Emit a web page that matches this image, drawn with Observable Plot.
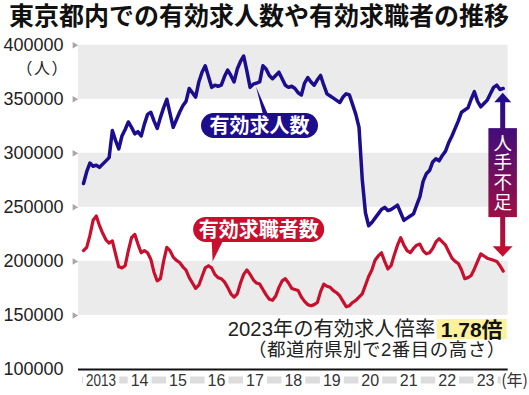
<!DOCTYPE html>
<html><head><meta charset="utf-8">
<script src="https://cdn.jsdelivr.net/npm/d3@7"></script>
<script src="https://cdn.jsdelivr.net/npm/@observablehq/plot@0.6"></script>
<style>
body{margin:0;background:#fff;width:529px;height:395px;overflow:hidden;position:relative;font-family:"Liberation Sans","Noto Sans CJK JP",sans-serif;}
#title{position:absolute;left:9px;top:-2px;width:515px;height:32px;line-height:32px;font-size:25px;font-weight:bold;font-family:"Noto Sans CJK JP",sans-serif;color:#111;white-space:nowrap;}
#chart{position:absolute;left:0;top:30px;}
</style></head><body>
<div id="title">東京都内での有効求人数や有効求職者の推移</div>
<div id="chart"></div>
<script>
// ---- data (monthly, Jan 2013 – Dec 2023), in thousands of people ----
const startYear = 2013;
const years = [2013,2014,2015,2016,2017,2018,2019,2020,2021,2022,2023];
const yearLabels = ["2013","14","15","16","17","18","19","20","21","22","23"];
const offers = [ // 有効求人数
 272,283,291,288,289,287,290,293,296,321,312,304,
 316,322,329,324,318,320,316,327,336,338,330,323,
 333,342,350,337,324,331,338,344,348,360,356,352,
 366,375,381,371,361,363,362,363,371,377,372,366,
 378,385,390,376,361,364,365,366,381,378,372,369,
 372,375,369,363,361,362,360,356,354,365,370,366,
 363,368,372,363,355,353,351,349,347,352,355,354,
 345,336,324,276,245,233,236,240,244,248,250,247,
 248,250,252,245,238,240,242,244,252,260,274,281,
 284,292,295,293,298,302,310,316,323,330,338,340,
 342,350,357,348,343,346,349,355,361,363,359,360];
const seekers = [ // 有効求職者数
 210,213,224,238,242,233,226,220,217,219,207,195,
 194,196,210,222,225,216,208,210,208,202,190,182,
 184,200,213,210,204,201,199,195,192,185,180,175,
 178,186,194,196,194,188,185,184,181,176,170,167,
 170,180,188,192,188,183,180,179,174,169,165,164,
 168,176,182,184,180,175,174,173,167,163,160,159,
 160,162,172,179,177,176,173,171,168,163,158,159,
 162,164,167,170,178,186,192,201,205,208,200,193,
 196,206,215,222,215,210,208,212,215,216,210,207,
 208,212,218,221,218,215,209,203,200,198,192,184,
 185,187,193,200,207,205,203,202,201,200,196,191];
const unit = 1000;
const yTicks = [100000,150000,200000,250000,300000,350000,400000];
const bands = [[350000,400000],[250000,300000],[150000,200000]];
const offersLabel = "有効求人数";
const seekersLabel = "有効求職者数";
const shortageLabel = "人手不足";
const ratioText = "2023年の有効求人倍率";
const ratioValue = "1.78倍";
const ratioNote = "（都道府県別で2番目の高さ）";

// ---- build table ----
const t = i => startYear + i / 12;
const offerData = offers.map((v, i) => ({t: t(i), v: v * unit}));
const seekerData = seekers.map((v, i) => ({t: t(i), v: v * unit}));
const pad = 0.13;
const xDomain = [t(0) - pad, t(offers.length - 1) + pad];

const BLUE = "#1c0c8e", RED = "#c8102e";
const FONT = "'Liberation Sans','Noto Sans CJK JP',sans-serif";
const JP = "'Noto Sans CJK JP',sans-serif";

const plot = Plot.plot({
  width: 529, height: 365,
  marginLeft: 78, marginRight: 21.3, marginTop: 14.7, marginBottom: 26,
  x: {domain: xDomain, axis: null},
  y: {domain: [100000, 400000], axis: null},
  style: {fontFamily: FONT, background: "transparent", color: "#222"},
  marks: [
    Plot.rect(bands, {x1: () => xDomain[0], x2: () => xDomain[1], y1: d => d[0], y2: d => d[1], fill: "#ebebeb"}),
    Plot.ruleY([100000], {stroke: "#111", strokeWidth: 2}),
    Plot.axisY(yTicks, {tickSize: 0, tickPadding: 15, tickFormat: d => String(d), fontSize: 18, fill: "#222", label: null}),
    Plot.dot(yTicks.filter(d => d > 100000), {x: () => xDomain[0], y: d => d, symbol: "triangle", rotate: 90, r: 2.4, fill: "#a8a8a8", dx: -4}),
    Plot.text(years, {x: d => d + 5.5 / 12, text: (d, i) => yearLabels[i], frameAnchor: "bottom", dy: 16, fontSize: 16, fill: "#333"}),
    Plot.line(seekerData, {x: "t", y: "v", stroke: RED, strokeWidth: 3.2, curve: "linear"}),
    Plot.line(offerData, {x: "t", y: "v", stroke: BLUE, strokeWidth: 3.5, curve: "linear"})
  ]
});
document.getElementById("chart").appendChild(plot);

// ---- annotations (positioned through the plot's scales) ----
const svg = d3.select(plot);
const xs = plot.scale("x"), ys = plot.scale("y");
const X = v => xs.apply(v), Y = v => ys.apply(v);
const svgBox = plot.getBoundingClientRect();
const boxOf = n => { const r = n.getBoundingClientRect(); return {x: r.left - svgBox.left, y: r.top - svgBox.top, width: r.width, height: r.height}; };

// x label strip
const labels = svg.selectAll("text").nodes().filter(n => yearLabels.includes(n.textContent));
if (labels.length) {
  const l0 = labels[0];
  l0.setAttribute("textLength", 30);
  l0.setAttribute("lengthAdjust", "spacingAndGlyphs");
  const labelGroup = l0.parentNode;
  const stripG = svg.insert("g", () => labelGroup);
  const b0 = boxOf(l0);
  const cy = b0.y + b0.height / 2;
  stripG.append("rect").attr("x", X(xDomain[0]) + 4).attr("width", X(t(offers.length - 1)) - X(xDomain[0]) - 6)
    .attr("y", cy - 3.5).attr("height", 7).attr("fill", "#dcdcdc");
  labels.forEach(n => {
    const b = boxOf(n);
    stripG.append("rect").attr("x", b.x - 3).attr("width", b.width + 6).attr("y", cy - 4.5).attr("height", 9).attr("fill", "#fff");
  });
  svg.append("text").attr("x", 528).attr("y", cy).attr("dy", "0.35em").attr("text-anchor", "end")
    .attr("font-size", 16).attr("fill", "#333").attr("font-family", JP).text("(年)");
}

// unit label
svg.append("text").attr("x", 69).attr("y", Y(378500)).attr("dy", "0.35em").attr("text-anchor", "end")
  .attr("font-size", 16).attr("fill", "#222").attr("font-family", JP).attr("letter-spacing", 1.5).text("（人）");

const ann = svg.append("g");

// 有効求人数 pill
{
  const i = 54, ax = X(t(i)), ay = Y(offers[i] * unit);
  ann.append("path").attr("d", `M${ax},${ay + 4}L${ax + 7},${ay + 32}L${ax + 12},${ay + 32}Z`).attr("fill", BLUE);
  ann.append("rect").attr("x", ax - 55).attr("y", ay + 30.5).attr("width", 117).attr("height", 25).attr("rx", 12.5).attr("fill", BLUE);
  ann.append("text").attr("x", ax + 3.5).attr("y", ay + 43).attr("dy", "0.36em").attr("text-anchor", "middle")
    .attr("font-size", 20).attr("font-weight", "bold").attr("font-family", JP).attr("fill", "#fff").text(offersLabel);
}
// 有効求職者数 pill
{
  const i = 40, ax = X(t(i)), ay = Y(seekers[i] * unit);
  ann.append("rect").attr("x", ax - 18).attr("y", ay - 50.5).attr("width", 131).attr("height", 25).attr("rx", 12.5).attr("fill", RED);
  ann.append("path").attr("d", `M${ax + 0.5},${ay - 27}L${ax + 12},${ay - 27}L${ax + 1.5},${ay - 6}Z`).attr("fill", RED);
  ann.append("text").attr("x", ax + 47.5).attr("y", ay - 38).attr("dy", "0.36em").attr("text-anchor", "middle")
    .attr("font-size", 20).attr("font-weight", "bold").attr("font-family", JP).attr("fill", "#fff").text(seekersLabel);
}
// 人手不足 double arrow
{
  const n = offers.length - 1, ax = X(t(n));
  const top = Y(offers[n] * unit) + 4.7, bot = Y(seekers[n] * unit) - 14;
  const defs = svg.insert("defs", ":first-child");
  const gr = defs.append("linearGradient").attr("id", "lack").attr("gradientUnits", "userSpaceOnUse")
    .attr("x1", 0).attr("x2", 0).attr("y1", top).attr("y2", bot);
  gr.append("stop").attr("offset", 0).attr("stop-color", BLUE);
  gr.append("stop").attr("offset", 1).attr("stop-color", RED);
  const F = "url(#lack)";
  ann.append("rect").attr("x", ax - 2.5).attr("width", 5).attr("y", top + 8).attr("height", bot - top - 17).attr("fill", F);
  ann.append("path").attr("d", `M${ax},${top}L${ax + 8.5},${top + 9.5}L${ax - 8.5},${top + 9.5}Z`).attr("fill", F);
  ann.append("path").attr("d", `M${ax},${bot}L${ax + 10},${bot - 10.5}L${ax - 10},${bot - 10.5}Z`).attr("fill", F);
  const mid = (top + bot) / 2 - 2;
  ann.append("rect").attr("x", ax - 14.3).attr("width", 28.5).attr("y", mid - 44.5).attr("height", 89).attr("fill", F);
  ann.append("text").attr("x", ax).attr("y", mid).attr("text-anchor", "middle")
    .style("writing-mode", "vertical-rl").attr("letter-spacing", 1.1)
    .attr("font-size", 18.5).attr("font-family", JP).attr("fill", "#fff").text(shortageLabel);
}
// ratio text
{
  const right = X(xDomain[1]);
  const yb = Y(150000);
  const g = ann.append("g");
  g.append("rect").attr("x", right - 71).attr("width", 70).attr("y", yb + 4).attr("height", 20).attr("fill", "#fdf19c");
  g.append("text").attr("x", right - 36).attr("y", yb + 14).attr("dy", "0.36em").attr("text-anchor", "middle")
    .attr("font-size", 21).attr("font-weight", "bold").attr("font-family", FONT).attr("fill", "#111").text(ratioValue);
  g.append("text").attr("x", right - 72.5).attr("y", yb + 14).attr("dy", "0.36em").attr("text-anchor", "end")
    .attr("font-size", 20.3).attr("font-family", FONT).attr("fill", "#222").text(ratioText);
  g.append("text").attr("x", right - 2).attr("y", yb + 34).attr("dy", "0.36em").attr("text-anchor", "end")
    .attr("font-size", 18.5).attr("letter-spacing", 0.5).attr("font-family", FONT).attr("fill", "#222").text(ratioNote);
}
</script>
</body></html>
